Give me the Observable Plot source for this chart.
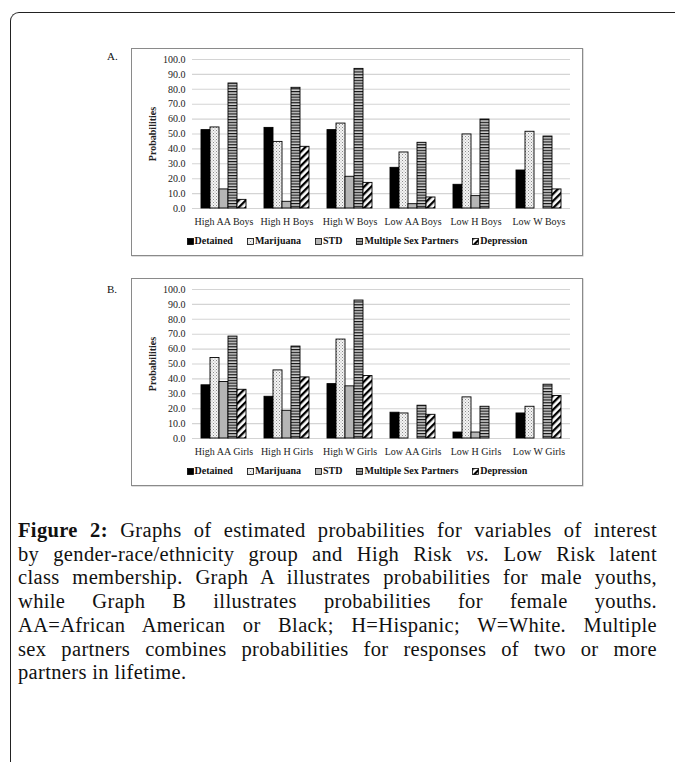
<!DOCTYPE html>
<html>
<head>
<meta charset="utf-8">
<script src="https://cdn.jsdelivr.net/npm/d3@7"></script>
<script src="https://cdn.jsdelivr.net/npm/@observablehq/plot@0.6"></script>
<style>
  html, body { margin: 0; padding: 0; background: #fff; }
  body { width: 675px; height: 762px; position: relative; overflow: hidden; font-family: "Liberation Serif", serif; color: #111; }
  .frame { position: absolute; left: 10px; top: 12px; width: 720px; height: 800px; border-left: 1.5px solid #222; border-top: 1.5px solid #222; border-top-left-radius: 9px; }
  .panel-label { position: absolute; left: 107px; font-size: 11px; font-family: "Liberation Serif", serif; }
  .box { position: absolute; left: 131px; width: 452px; height: 208px; box-sizing: border-box; border: 1.2px solid #8a8a8a; box-shadow: 0.5px 0.5px 0 #bbb; background: #fff; }
  .box svg.chart { position: absolute; left: 0; top: 0; }
  .legend { position: absolute; left: 0; width: 100%; top: 185px; height: 14px; line-height: 14px; text-align: center; font-weight: bold; font-size: 10px; white-space: nowrap; }
  .legend span.item { margin: 0 7px; }
  .legend svg { vertical-align: -0.5px; margin-right: 1px; }
  .caption { position: absolute; left: 18px; top: 519px; width: 639px; font-family: "Liberation Serif", serif; font-size: 20.5px; letter-spacing: 0.35px; line-height: 23.7px; color: #111; }
  .caption div { text-align: justify; text-align-last: justify; white-space: nowrap; }
  .caption div.last { text-align: left; text-align-last: left; }
</style>
</head>
<body>
<svg width="0" height="0" style="position:absolute">
  <defs>
    <pattern id="pDots" width="3" height="3" patternUnits="userSpaceOnUse">
      <rect width="3" height="3" fill="#f4f4f4"/>
      <rect x="0" y="0" width="1" height="1" fill="#8c8c8c"/>
      <rect x="1.5" y="1.5" width="1" height="1" fill="#a8a8a8"/>
    </pattern>
    <pattern id="pHoriz" width="4" height="2.8" patternUnits="userSpaceOnUse">
      <rect width="4" height="2.8" fill="#cfcfcf"/>
      <rect width="4" height="1.2" fill="#151515"/>
    </pattern>
    <pattern id="pDiag" width="5" height="5" patternUnits="userSpaceOnUse" patternTransform="rotate(45)">
      <rect width="5" height="5" fill="#fff"/>
      <rect width="2.3" height="5" fill="#000"/>
    </pattern>
  </defs>
</svg>
<div class="frame"></div>

<div class="panel-label" style="top:50px">A.</div>
<div class="box" id="boxA" style="top:48px"></div>
<div class="panel-label" style="top:283px">B.</div>
<div class="box" id="boxB" style="top:278px"></div>

<div class="caption">
  <div><b>Figure 2:</b> Graphs of estimated probabilities for variables of interest</div>
  <div>by gender-race/ethnicity group and High Risk <i>vs.</i> Low Risk latent</div>
  <div>class membership. Graph A illustrates probabilities for male youths,</div>
  <div>while Graph B illustrates probabilities for female youths.</div>
  <div>AA=African American or Black; H=Hispanic; W=White. Multiple</div>
  <div>sex partners combines probabilities for responses of two or more</div>
  <div class="last">partners in lifetime.</div>
</div>

<script>
// ---------- data ----------
const variables = ["Detained", "Marijuana", "STD", "Multiple Sex Partners", "Depression"];
const yTicks = [0, 10, 20, 30, 40, 50, 60, 70, 80, 90, 100];

// Panel A: boys
const boysGroups = ["High AA Boys", "High H Boys", "High W Boys", "Low AA Boys", "Low H Boys", "Low W Boys"];
const boysDetained   = [52.6, 54.1, 52.6, 27.3, 15.9, 25.5];
const boysMarijuana  = [54.4, 44.7, 57.0, 37.6, 49.7, 51.5];
const boysSTD        = [12.8,  4.5, 21.3,  2.9,  8.3,  0.0];
const boysMSP        = [83.9, 81.0, 93.7, 44.1, 59.7, 48.3];
const boysDepression = [ 5.8, 41.4, 17.2,  7.4,  0.0, 12.8];

// Panel B: girls
const girlsGroups = ["High AA Girls", "High H Girls", "High W Girls", "Low AA Girls", "Low H Girls", "Low W Girls"];
const girlsDetained   = [35.7, 28.0, 36.5, 17.3,  4.0, 16.8];
const girlsMarijuana  = [54.0, 45.7, 66.4, 16.8, 27.6, 21.3];
const girlsSTD        = [37.9, 18.6, 35.0,  0.0,  4.0,  0.0];
const girlsMSP        = [68.4, 61.7, 92.6, 22.0, 21.3, 36.1];
const girlsDepression = [32.7, 41.0, 41.9, 15.9,  0.0, 28.5];

const fills = ["#000000", "url(#pDots)", "#b5b5b5", "url(#pHoriz)", "url(#pDiag)"];

function toRows(groups, series) {
  const rows = [];
  groups.forEach((g, i) => {
    series.forEach((s, j) => rows.push({group: g, variable: variables[j], value: s[i]}));
  });
  return rows;
}

function makeChart(groups, series) {
  const data = toRows(groups, series);
  return Plot.plot({
    width: 450,
    height: 182,
    marginLeft: 58,
    marginRight: 10,
    marginTop: 10,
    marginBottom: 23,
    style: {fontFamily: "Liberation Serif, serif", fontSize: "10px", background: "transparent", color: "#222", overflow: "visible"},
    facet: {data, x: "group"},
    fx: {domain: groups, paddingInner: 0.215, paddingOuter: 0.108, label: null, axis: "bottom", tickSize: 0, tickPadding: 9},
    x: {domain: variables, padding: 0, axis: null},
    y: {domain: [0, 100], ticks: yTicks, tickFormat: d3.format(".1f"), tickSize: 0, tickPadding: 14,
        label: "Probabilities", labelAnchor: "center", labelArrow: "none", labelOffset: 51},
    color: {domain: variables, range: fills},
    marks: [
      Plot.ruleY(yTicks, {stroke: "#d4d4d4", strokeWidth: 1.1, insetLeft: -7, insetRight: -7}),
      Plot.barY(data, {x: "variable", y: "value", fill: "variable", stroke: "#000", strokeWidth: 0.9})
    ]
  });
}

function makeLegend() {
  const div = document.createElement("div");
  div.className = "legend";
  variables.forEach((v, i) => {
    const span = document.createElement("span");
    span.className = "item";
    span.innerHTML = `<svg width="7" height="7"><rect x="0.5" y="0.5" width="6" height="6" fill="${fills[i]}" stroke="#000" stroke-width="0.8"/></svg>${v}`;
    div.appendChild(span);
  });
  return div;
}

function mount(id, groups, series) {
  const box = document.getElementById(id);
  const chart = makeChart(groups, series);
  chart.classList.add("chart");
  box.appendChild(chart);
  box.appendChild(makeLegend());
}

mount("boxA", boysGroups, [boysDetained, boysMarijuana, boysSTD, boysMSP, boysDepression]);
mount("boxB", girlsGroups, [girlsDetained, girlsMarijuana, girlsSTD, girlsMSP, girlsDepression]);

// bold axis title
document.querySelectorAll("svg.chart g[aria-label='y-axis label'] text, svg.chart g[aria-label='y-axis label']").forEach(el => el.setAttribute("font-weight", "bold"));
</script>
</body>
</html>
